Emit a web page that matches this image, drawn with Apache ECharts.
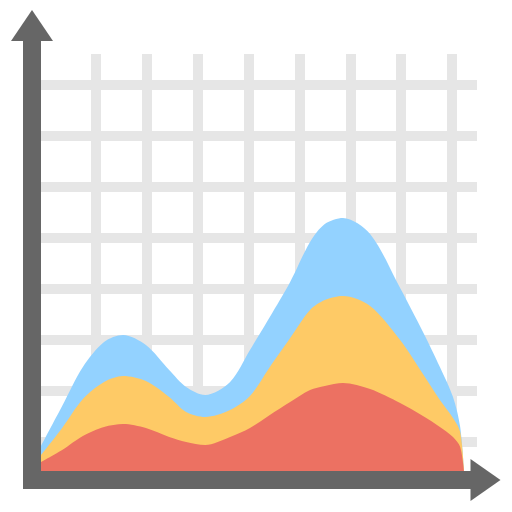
<!DOCTYPE html>
<html><head><meta charset="utf-8">
<script src="https://cdn.jsdelivr.net/npm/echarts@6/dist/echarts.min.js"></script>
<style>html,body{margin:0;padding:0;background:#fff}#c{width:512px;height:512px}</style>
</head><body><div id="c"></div>
<script>
const xValues      = [0, 5.0, 9.9, 14.9, 19.4, 24.8, 30.3, 34.3, 38.8, 44.7, 49.4, 54.1, 58.9, 63.6, 67.1, 71.4, 77.8, 84.9, 90.3, 94.3, 97.4, 99.1, 100];
const redValues    = [9, 21, 35, 44, 47, 43, 34, 29, 26, 34, 43, 56, 69, 81, 85, 88, 82, 68, 55, 44, 34, 24, 0];
const yellowValues = [7, 22, 37, 45, 48, 47, 40, 30, 28, 27, 32, 48, 64, 80, 86, 87, 83, 63, 42, 27, 19, 15, 0];
const blueValues   = [9, 22, 32, 40, 41, 36, 27, 25, 22, 28, 46, 50, 56, 68, 76, 78, 72, 52, 42, 33, 21, 5, 0];
const hGridTicks = [0, 7];
const vGridTicks = [0, 7];

// stacked tops (cumulative), drawn back to front
const redTop = redValues.slice();
const yellowTop = redValues.map((v, i) => v + yellowValues[i]);
const blueTop = yellowTop.map((v, i) => v + blueValues[i]);
const pairs = vals => vals.map((v, i) => [xValues[i], v]);

const chart = echarts.init(document.getElementById('c'), null, {renderer: 'canvas'});
const gridLine = {show: true, lineStyle: {color: '#e6e6e6', width: 10}};
const hidden = {show: false};
const axisGray = '#666666';
const areaSeries = (vals, color) => ({type: 'line', xAxisIndex: 0, yAxisIndex: 0, smooth: 0.3, showSymbol: false,
  data: pairs(vals), lineStyle: {width: 0}, areaStyle: {color: color, opacity: 1, origin: 'start'}});

chart.setOption({
  animation: false,
  backgroundColor: '#ffffff',
  grid: [
    {left: 41, right: 48, top: 71, bottom: 41},
    {left: 41, right: 35, top: 85, height: 357},
    {left: 96, right: 60, top: 54, bottom: 41},
    {left: 32, right: 34, top: 36, bottom: 32}
  ],
  xAxis: [
    {gridIndex: 0, type: 'value', min: 0, max: 100, show: false},
    {gridIndex: 1, type: 'value', min: 0, max: 1, show: false},
    {gridIndex: 2, type: 'value', min: vGridTicks[0], max: vGridTicks[1], interval: 1,
      axisLine: hidden, axisTick: hidden, axisLabel: hidden, splitLine: gridLine},
    {gridIndex: 3, type: 'value', min: 0, max: 1, z: 10,
      axisLine: {show: true, symbol: ['none', 'triangle'], symbolSize: [42, 30], symbolOffset: [0, 7.5],
        lineStyle: {color: axisGray, width: 18, cap: 'square'}},
      axisTick: hidden, axisLabel: hidden, splitLine: hidden}
  ],
  yAxis: [
    {gridIndex: 0, type: 'value', min: 0, max: 400, show: false},
    {gridIndex: 1, type: 'value', min: hGridTicks[0], max: hGridTicks[1], interval: 1,
      axisLine: hidden, axisTick: hidden, axisLabel: hidden, splitLine: gridLine},
    {gridIndex: 2, type: 'value', min: 0, max: 1, show: false},
    {gridIndex: 3, type: 'value', min: 0, max: 1, z: 10,
      axisLine: {show: true, symbol: ['none', 'triangle'], symbolSize: [42, 31], symbolOffset: [0, 10.5],
        lineStyle: {color: axisGray, width: 18, cap: 'square'}},
      axisTick: hidden, axisLabel: hidden, splitLine: hidden}
  ],
  series: [
    areaSeries(blueTop, '#93D2FF'),
    areaSeries(yellowTop, '#FECA66'),
    areaSeries(redTop, '#EC7162')
  ]
});
</script></body></html>
